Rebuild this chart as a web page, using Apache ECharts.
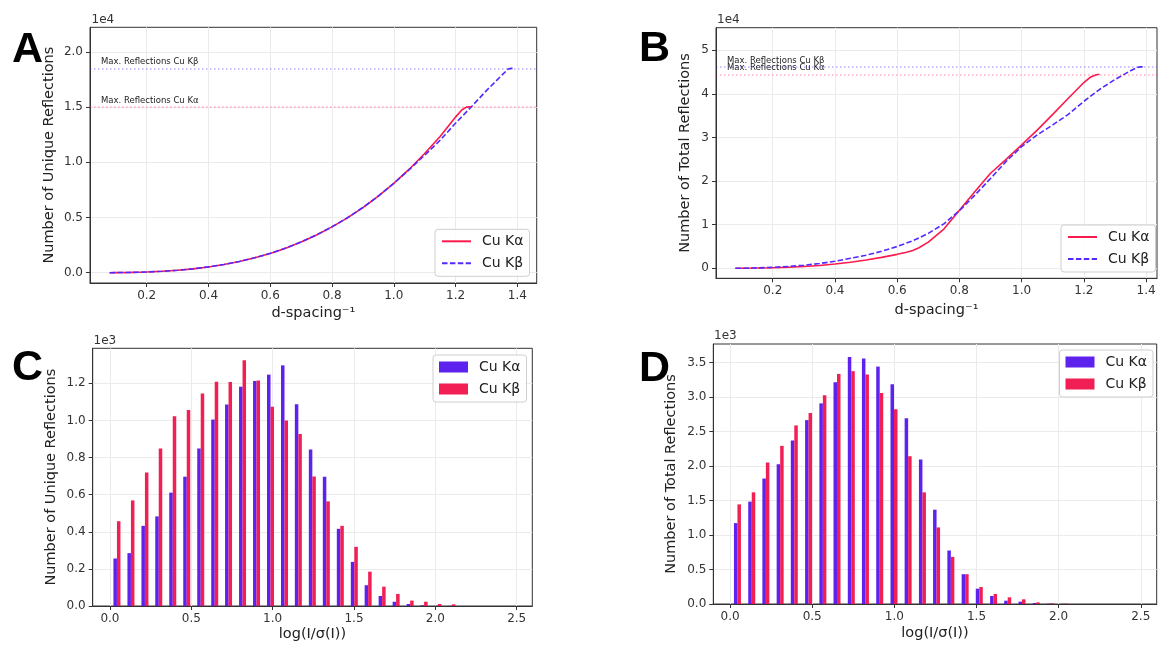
<!DOCTYPE html>
<html><head><meta charset="utf-8">
<script src="https://cdn.jsdelivr.net/npm/echarts@6/dist/echarts.min.js"></script>
<style>html,body{margin:0;padding:0;background:#fff}#c{width:1159px;height:648px}</style>
</head><body><div id="c"></div>
<script>
// ---------- DATA ----------
// Panel A: unique reflections vs d-spacing^-1
const uniqKaX = [0.08,0.10,0.15,0.20,0.25,0.30,0.35,0.40,0.45,0.50,0.55,0.60,0.65,0.70,0.75,0.80,0.85,0.90,0.95,1.00,1.05,1.10,1.15,1.20,1.22,1.235,1.25];
const uniqKa  = [0,10,30,60,130,220,350,520,740,1010,1350,1750,2220,2780,3420,4150,4970,5900,6940,8100,9380,10800,12350,14100,14750,15010,15030];
const uniqKbX = [0.08,0.10,0.15,0.20,0.25,0.30,0.35,0.40,0.45,0.50,0.55,0.60,0.65,0.70,0.75,0.80,0.85,0.90,0.95,1.00,1.05,1.10,1.15,1.20,1.25,1.30,1.35,1.37,1.38,1.39];
const uniqKb  = [0,10,30,60,130,220,350,530,750,1020,1360,1760,2230,2790,3430,4160,4980,5910,6950,8100,9340,10650,12000,13550,15000,16500,17900,18450,18520,18520];
const maxUniqKa = 15030, maxUniqKb = 18520;

// Panel B: total reflections vs d-spacing^-1
const totKaX = [0.08,0.10,0.15,0.20,0.25,0.30,0.35,0.40,0.45,0.50,0.55,0.60,0.63,0.65,0.67,0.70,0.75,0.80,0.85,0.90,0.95,1.00,1.05,1.10,1.15,1.20,1.22,1.24,1.25];
const totKa  = [0,20,60,120,230,400,650,1000,1400,1900,2500,3200,3700,4100,4700,6000,9000,13300,17600,21800,25000,28300,31700,35300,39000,42600,43800,44400,44500];
const totKbX = [0.08,0.10,0.15,0.20,0.25,0.30,0.35,0.40,0.45,0.50,0.55,0.60,0.65,0.70,0.75,0.80,0.85,0.90,0.95,1.00,1.05,1.10,1.15,1.20,1.25,1.30,1.35,1.37,1.38,1.39];
const totKb  = [0,20,90,220,420,700,1100,1600,2300,3000,3900,5000,6300,8000,10200,13200,16800,20600,24500,27900,30600,32900,35300,38300,41000,43300,45300,46000,46200,46200];
const maxTotKa = 44500, maxTotKb = 46200;

// Panel C: unique reflections histogram over log(I/sigma(I))
const binsC = [0.043,0.129,0.215,0.300,0.386,0.472,0.558,0.644,0.729,0.815,0.901,0.987,1.073,1.158,1.244,1.330,1.416,1.502,1.587,1.673,1.759,1.845,1.931,2.016,2.102];
const histUniqKa = [256,285,432,483,611,697,849,1005,1086,1182,1213,1247,1297,1087,843,696,416,238,112,54,23,11,4,2,1];
const histUniqKb = [457,569,720,849,1023,1056,1146,1209,1207,1325,1216,1074,1000,927,698,564,432,319,185,104,65,29,23,11,9];

// Panel D: total reflections histogram over log(I/sigma(I))
const binsD = [0.045,0.132,0.218,0.305,0.391,0.478,0.565,0.651,0.738,0.824,0.911,0.998,1.084,1.171,1.257,1.344,1.431,1.517,1.604,1.690,1.777,1.864,1.950,2.037];
const histTotKa = [1173,1485,1820,2028,2373,2668,2911,3217,3585,3560,3444,3188,2693,2096,1368,776,432,222,116,48,34,15,5,3];
const histTotKb = [1445,1620,2052,2294,2591,2770,3028,3338,3378,3330,3060,2825,2144,1620,1111,683,432,246,145,97,68,24,10,6];

// Tick labels
const ticksD = [0.2,0.4,0.6,0.8,1.0,1.2,1.4];
const ticksLog = [0.0,0.5,1.0,1.5,2.0,2.5];
const ticksUniqA = [0,5000,10000,15000,20000];
const ticksTotB = [0,10000,20000,30000,40000,50000];
const ticksUniqC = [0,200,400,600,800,1000,1200];
const ticksTotD = [0,500,1000,1500,2000,2500,3000,3500];

// ---------- STYLE ----------
const FONT = 'DejaVu Sans';
const LINE_RED = '#fa1a4c', LINE_BLUE = '#5528ff';
const BAR_BLUE = '#5516ee', BAR_RED = '#f0134b';
const pairs = (xs, ys) => xs.map((x, i) => [x, ys[i]]);

function xAx(gi, min, max, ticks, dec, name, gap) {
  return {
    type: 'value', gridIndex: gi, min: min, max: max,
    name: name, nameLocation: 'middle', nameGap: gap, nameMoveOverlap: false,
    nameTextStyle: {fontFamily: FONT, fontSize: 14.5, color: '#222'},
    axisLine: {show: true, onZero: false, lineStyle: {color: '#333', width: 1}},
    axisTick: {show: true, length: 4, lineStyle: {color: '#333'}, customValues: ticks},
    axisLabel: {show: true, margin: 7, fontFamily: FONT, fontSize: 12, color: '#333',
      customValues: ticks, formatter: v => Number(v).toFixed(dec)},
    splitLine: {show: true, lineStyle: {color: '#ebebeb', width: 1}}
  };
}
function yAx(gi, min, max, ticks, scale, dec, name, gap) {
  return {
    type: 'value', gridIndex: gi, min: min, max: max,
    name: name, nameLocation: 'middle', nameGap: gap, nameMoveOverlap: false,
    nameTextStyle: {fontFamily: FONT, fontSize: 14.5, color: '#222'},
    axisLine: {show: true, onZero: false, lineStyle: {color: '#333', width: 1}},
    axisTick: {show: true, length: 4, lineStyle: {color: '#333'}, customValues: ticks},
    axisLabel: {show: true, margin: 7, fontFamily: FONT, fontSize: 12, color: '#333',
      customValues: ticks, formatter: v => (Number(v) / scale).toFixed(dec)},
    splitLine: {show: true, lineStyle: {color: '#ebebeb', width: 1}}
  };
}
function maxLine(value, text, color) {
  return {
    silent: true, symbol: 'none', animation: false,
    data: [{yAxis: value}],
    lineStyle: {color: color, type: [1.5, 2.5], width: 1.5},
    label: {show: true, position: 'insideStartTop', formatter: text, distance: [11, 2],
      fontFamily: FONT, fontSize: 8.5, color: '#222'},
    emphasis: {disabled: true}
  };
}
function lineSeries(name, gi, data, color, dashed, ml) {
  return {
    type: 'line', name: name, xAxisIndex: gi, yAxisIndex: gi, data: data,
    symbol: 'none', showSymbol: false, animation: false,
    lineStyle: {color: color, width: 1.6, type: dashed ? [5.5, 2.4] : 'solid'},
    itemStyle: {color: color},
    markLine: ml
  };
}
function barSeries(name, gi, data, color) {
  return {
    type: 'bar', name: name, xAxisIndex: gi, yAxisIndex: gi, data: data,
    barWidth: 3.5, barGap: '0%', animation: false,
    itemStyle: {color: color, opacity: 0.95}
  };
}
function legend(names, left, top, rect) {
  const l = {
    orient: 'vertical', left: left, top: top, data: names,
    formatter: n => n.trim(),
    itemWidth: 29, itemHeight: 11, itemGap: 8,
    padding: [5, 6, 6, 6],
    backgroundColor: 'rgba(255,255,255,0.85)', borderColor: '#cfcfcf', borderWidth: 1, borderRadius: 3,
    textStyle: {fontFamily: FONT, fontSize: 14, color: '#222', padding: [0, 0, 0, 6]},
    selectedMode: false
  };
  if (rect) l.icon = 'rect'; else l.itemStyle = {opacity: 0};
  return l;
}

const option = {
  animation: false,
  backgroundColor: '#fff',
  textStyle: {fontFamily: FONT},
  grid: [
    {left: 90, top: 27.3, width: 446.7, height: 255.7},
    {left: 716, top: 27.7, width: 441, height: 250.6},
    {left: 92.7, top: 348.3, width: 439.6, height: 257.7},
    {left: 713.3, top: 344, width: 443.4, height: 260}
  ].map(g => Object.assign(g, {show: true, borderColor: '#333', borderWidth: 1, outerBoundsMode: 'none', containLabel: false})),
  xAxis: [
    xAx(0, 0.0164, 1.4628, ticksD, 1, 'd-spacing\u207B\u00B9', 23),
    xAx(1, 0.0177, 1.435, ticksD, 1, 'd-spacing\u207B\u00B9', 24),
    xAx(2, -0.106, 2.596, ticksLog, 1, 'log(I/\u03C3(I))', 21),
    xAx(3, -0.102, 2.597, ticksLog, 1, 'log(I/\u03C3(I))', 22)
  ],
  yAxis: [
    yAx(0, -933, 22240, ticksUniqA, 1e4, 1, 'Number of Unique Reflections', 33),
    yAx(1, -2294, 55180, ticksTotB, 1e4, 0, 'Number of Total Reflections', 23),
    yAx(2, 0, 1389, ticksUniqC, 1e3, 1, 'Number of Unique Reflections', 34),
    yAx(3, 0, 3772, ticksTotD, 1e3, 1, 'Number of Total Reflections', 35)
  ],
  legend: [
    legend(['Cu K\u03B1', 'Cu K\u03B2'], 435, 229.3, false),
    legend(['Cu K\u03B1 ', 'Cu K\u03B2 '], 1061, 225, false),
    legend(['Cu K\u03B1  ', 'Cu K\u03B2  '], 433, 355, true),
    legend(['Cu K\u03B1   ', 'Cu K\u03B2   '], 1059.5, 350, true)
  ],
  series: [
    lineSeries('Cu K\u03B1', 0, pairs(uniqKaX, uniqKa), LINE_RED, false,
      maxLine(maxUniqKa, 'Max. Reflections Cu K\u03B1', 'rgba(255,30,80,0.35)')),
    lineSeries('Cu K\u03B2', 0, pairs(uniqKbX, uniqKb), LINE_BLUE, true,
      maxLine(maxUniqKb, 'Max. Reflections Cu K\u03B2', 'rgba(80,50,255,0.4)')),
    lineSeries('Cu K\u03B1 ', 1, pairs(totKaX, totKa), LINE_RED, false,
      maxLine(maxTotKa, 'Max. Reflections Cu K\u03B1', 'rgba(255,30,80,0.35)')),
    lineSeries('Cu K\u03B2 ', 1, pairs(totKbX, totKb), LINE_BLUE, true,
      maxLine(maxTotKb, 'Max. Reflections Cu K\u03B2', 'rgba(80,50,255,0.4)')),
    barSeries('Cu K\u03B1  ', 2, pairs(binsC, histUniqKa), BAR_BLUE),
    barSeries('Cu K\u03B2  ', 2, pairs(binsC, histUniqKb), BAR_RED),
    barSeries('Cu K\u03B1   ', 3, pairs(binsD, histTotKa), BAR_BLUE),
    barSeries('Cu K\u03B2   ', 3, pairs(binsD, histTotKb), BAR_RED)
  ],
  graphic: [
    {type: 'text', x: 12, y: 50, style: {text: 'A', font: 'bold 43px "Liberation Sans"', fill: '#000', verticalAlign: 'middle'}},
    {type: 'text', x: 639, y: 49, style: {text: 'B', font: 'bold 43px "Liberation Sans"', fill: '#000', verticalAlign: 'middle'}},
    {type: 'text', x: 12, y: 368, style: {text: 'C', font: 'bold 43px "Liberation Sans"', fill: '#000', verticalAlign: 'middle'}},
    {type: 'text', x: 639, y: 369, style: {text: 'D', font: 'bold 43px "Liberation Sans"', fill: '#000', verticalAlign: 'middle'}},
    {type: 'text', x: 91.5, y: 19.5, style: {text: '1e4', font: '12px "DejaVu Sans"', fill: '#333', verticalAlign: 'middle'}},
    {type: 'text', x: 717, y: 20, style: {text: '1e4', font: '12px "DejaVu Sans"', fill: '#333', verticalAlign: 'middle'}},
    {type: 'text', x: 93.5, y: 340.5, style: {text: '1e3', font: '12px "DejaVu Sans"', fill: '#333', verticalAlign: 'middle'}},
    {type: 'text', x: 714, y: 336, style: {text: '1e3', font: '12px "DejaVu Sans"', fill: '#333', verticalAlign: 'middle'}}
  ]
};

const chart = echarts.init(document.getElementById('c'), null, {renderer: 'canvas'});
chart.setOption(option);
</script></body></html>
